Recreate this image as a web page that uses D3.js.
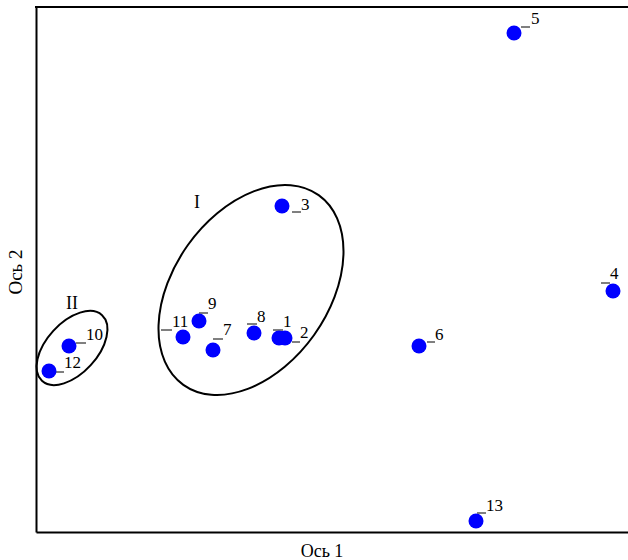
<!DOCTYPE html>
<html>
<head>
<meta charset="utf-8">
<script src="https://cdn.jsdelivr.net/npm/d3@7"></script>
<style>
body { margin: 0; background: #fff; }
text { font-family: "Liberation Serif", "Times New Roman", serif; fill: #000; }
</style>
</head>
<body>
<div id="chart"></div>
<script>
const w = 628;
const h = 560;

// Data (object scores on the two axes)
const objectIds = ["1","2","3","4","5","6","7","8","9","10","11","12","13"];
const axis1 = [243, 249, 246, 577, 478, 383, 177, 218, 163, 33, 147, 13, 440];
const axis2 = [194, 194, 326, 241, 499, 186, 182, 199, 211, 186, 195, 161, 11];

// Clusters
const clusterNames = ["I", "II"];
const clusterCx = [215, 36];
const clusterCy = [242, 184];

// label layout: [dash x1, dash x2, dash y, text x, text baseline] relative to point
const labelPos = [
  [-6, 4, -8, 4, -11],
  [7, 15, 4, 15, 0],
  [10, 19, 6, 19, 4],
  [-12, -3, -8, -3, -12],
  [7, 16, -6, 17, -9],
  [8, 16, -4, 16, -6],
  [0, 10, -11, 10, -15],
  [-7, 3, -9, 3, -11],
  [0, 9, -8, 9, -12],
  [7, 17, -3, 17, -6],
  [-22, -11, -7, -11, -10],
  [7, 15, 1, 15, -3],
  [1, 10, -8, 10, -10]
];
// ellipse shape: [rx, ry, rotation]
const clusterShape = [[77.5, 116.5, 35.5], [25.4, 44.5, 42.5]];
const clusterLabelPos = [[197, 208], [72, 309]];

const svg = d3.select("#chart")
  .append("svg")
  .attr("width", w)
  .attr("height", h);

const x = d3.scaleLinear().domain([0, 604]).range([36, 640]);
const y = d3.scaleLinear().domain([0, 525]).range([532, 7]);

// frame: left and bottom axes without ticks, plus top line
svg.append("g")
  .attr("transform", "translate(0,532)")
  .call(d3.axisBottom(x).tickValues([]).tickSizeOuter(0))
  .select(".domain").attr("stroke", "#000").attr("stroke-width", 2);

svg.append("g")
  .attr("transform", "translate(36,0)")
  .call(d3.axisLeft(y).tickValues([]).tickSizeOuter(0))
  .select(".domain").attr("stroke", "#000").attr("stroke-width", 2);

svg.append("line")
  .attr("x1", x(0) - 1).attr("x2", x(604))
  .attr("y1", y(525)).attr("y2", y(525))
  .attr("stroke", "#000").attr("stroke-width", 2);

// axis titles
svg.append("text")
  .attr("x", 322)
  .attr("y", 557)
  .attr("text-anchor", "middle")
  .style("font-size", "18px")
  .text("Ось 1");

svg.append("text")
  .attr("transform", "translate(22,272) rotate(-90)")
  .attr("text-anchor", "middle")
  .style("font-size", "19px")
  .text("Ось 2");

// cluster ellipses
clusterNames.forEach((name, i) => {
  const s = clusterShape[i];
  svg.append("ellipse")
    .attr("transform", `translate(${x(clusterCx[i])},${y(clusterCy[i])}) rotate(${s[2]})`)
    .attr("rx", s[0])
    .attr("ry", s[1])
    .attr("fill", "none")
    .attr("stroke", "#000")
    .attr("stroke-width", 2);
  svg.append("text")
    .attr("x", clusterLabelPos[i][0])
    .attr("y", clusterLabelPos[i][1])
    .attr("text-anchor", "middle")
    .style("font-size", "18px")
    .text(name);
});

// points
const pts = svg.append("g").selectAll("g")
  .data(objectIds)
  .enter()
  .append("g")
  .attr("transform", (d, i) => `translate(${x(axis1[i])},${y(axis2[i])})`);

pts.append("line")
  .attr("x1", (d, i) => labelPos[i][0])
  .attr("x2", (d, i) => labelPos[i][1])
  .attr("y1", (d, i) => labelPos[i][2])
  .attr("y2", (d, i) => labelPos[i][2])
  .attr("stroke", "#000")
  .attr("stroke-width", 1);

pts.append("circle")
  .attr("r", 7.5)
  .attr("fill", "#0000ff");

pts.append("text")
  .attr("x", (d, i) => labelPos[i][3])
  .attr("y", (d, i) => labelPos[i][4])
  .style("font-size", "17px")
  .text(d => d);
</script>
</body>
</html>
